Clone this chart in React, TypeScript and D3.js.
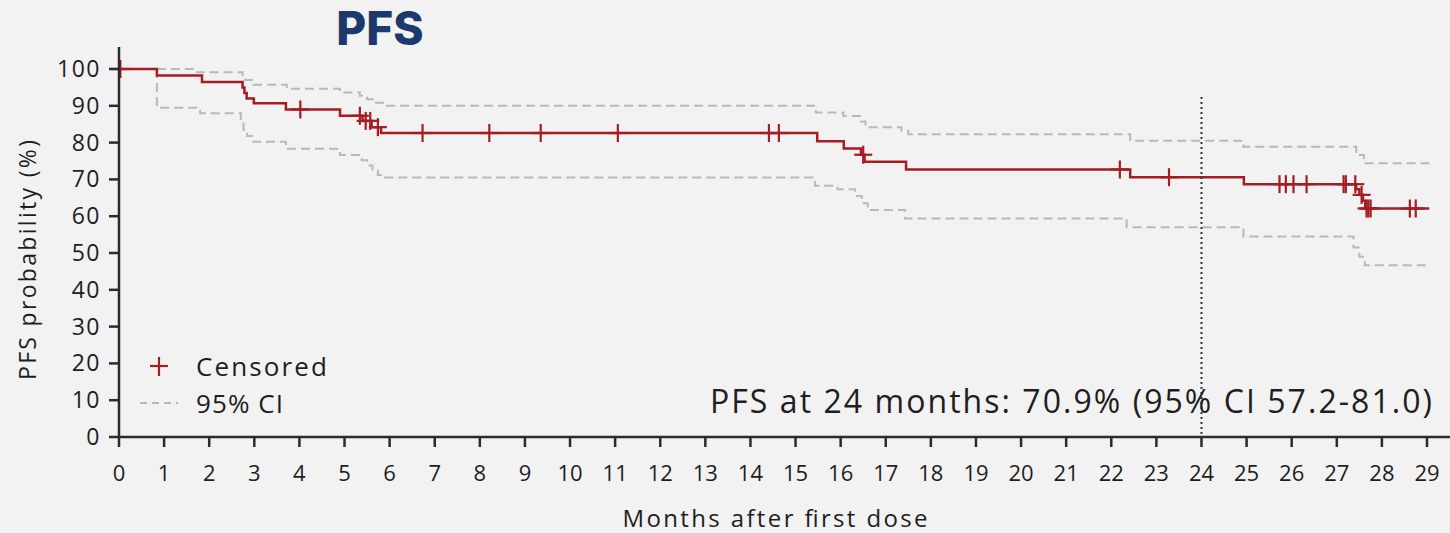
import * as d3 from "d3";
import React from "react";

// Kaplan-Meier step data (months, % PFS)
const kmTimes = [0, 0.84, 1.84, 2.74, 2.78, 2.83, 2.99, 3.7, 4.9, 5.4, 5.6, 5.81, 15.48, 16.07, 16.45, 16.53, 17.45, 22.42, 24.94, 27.43, 27.5, 27.58, 27.63, 29.05];
const kmSurv = [100, 98.2, 96.5, 95.0, 93.5, 92.0, 90.7, 89.0, 87.3, 85.9, 84.2, 82.6, 80.4, 78.4, 76.7, 74.8, 72.7, 70.6, 68.7, 67.3, 65.8, 64.2, 62.1, 62.1];

const censorTimes = [0.03, 4.02, 5.34, 5.47, 5.57, 5.74, 6.73, 8.21, 9.35, 11.06, 14.41, 14.63, 16.5, 22.19, 23.28, 25.73, 25.87, 26.04, 26.33, 27.15, 27.2, 27.41, 27.55, 27.66, 27.7, 27.75, 28.62, 28.75];

const upperTimes = [0.84, 1.72, 2.74, 2.8, 2.98, 3.72, 4.9, 5.34, 5.5, 5.65, 5.85, 15.45, 16.06, 16.45, 16.55, 17.35, 17.5, 22.42, 24.93, 27.43, 27.6, 29.05];
const upperVals = [100, 99.1, 98.0, 97.0, 95.7, 94.6, 93.6, 92.7, 91.8, 90.8, 90.0, 88.2, 87.2, 85.7, 84.2, 83.2, 82.3, 80.5, 78.9, 76.6, 74.4, 74.4];

const lowerTimes = [0.84, 0.84, 1.8, 2.7, 2.76, 2.84, 2.98, 3.7, 4.9, 5.38, 5.5, 5.62, 5.74, 5.86, 15.43, 15.93, 16.32, 16.47, 16.6, 17.43, 22.34, 24.93, 27.37, 27.5, 27.62, 29.05];
const lowerVals = [100, 89.5, 88.0, 85.5, 83.5, 81.8, 80.2, 78.3, 76.6, 75.2, 73.8, 72.4, 71.2, 70.5, 68.3, 67.3, 65.5, 63.5, 61.7, 59.4, 57.0, 54.5, 51.5, 49.0, 46.7, 46.7];

const xTicks = d3.range(0, 30);
const yTicks = d3.range(0, 101, 10);

const RED = "#a51c24";
const GREY = "#b9b9b9";
const INK = "#2b2b2b";
const TXT = "#1e1e1e";
const FONT = "'Open Sans', Lato, sans-serif";

export default function App() {
  const W = 1450, H = 533;
  const x = d3.scaleLinear().domain([0, 29]).range([119, 1427]);
  const y = d3.scaleLinear().domain([0, 100]).range([437, 69]);

  const km = kmTimes.map((t, i) => [t, kmSurv[i]] as [number, number]);
  const up = upperTimes.map((t, i) => [t, upperVals[i]] as [number, number]);
  const lo = lowerTimes.map((t, i) => [t, lowerVals[i]] as [number, number]);

  const line = d3.line<[number, number]>()
    .x(d => x(d[0]))
    .y(d => y(d[1]))
    .curve(d3.curveStepAfter);

  const survAt = (t: number) => {
    const i = d3.bisectRight(kmTimes, t) - 1;
    return kmSurv[Math.max(0, i)];
  };

  return (
    <div style={{ position: "fixed", left: 0, top: 0, width: W, height: H, background: "#f2f2f2" }}>
      <svg width={W} height={H} style={{ display: "block", fontFamily: FONT, fontWeight: 400 }}>
        <text x={380} y={45} textAnchor="middle" fontSize={46} fontWeight={800}
          fill="#1b3a6b" style={{ fontFamily: "Inter, 'Open Sans', sans-serif" }}>PFS</text>

        {/* CI bands */}
        <path d={line(up) || ""} fill="none" stroke={GREY} strokeWidth={2} strokeDasharray="9,5" />
        <path d={line(lo) || ""} fill="none" stroke={GREY} strokeWidth={2} strokeDasharray="9,5" />

        {/* KM curve */}
        <path d={line(km) || ""} fill="none" stroke={RED} strokeWidth={2.5} />
        {censorTimes.map((t, i) => (
          <g key={i} transform={`translate(${x(t)},${y(survAt(t))})`} stroke={RED} strokeWidth={2.2}>
            <line x1={0} x2={0} y1={-9} y2={9} />
            <line x1={-9} x2={9} y1={0} y2={0} />
          </g>
        ))}

        {/* 24-month reference */}
        <line x1={x(24)} x2={x(24)} y1={97} y2={437} stroke="#2a3450" strokeWidth={2} strokeDasharray="2,3" />

        {/* axes */}
        <line x1={119} x2={119} y1={47} y2={438} stroke={INK} strokeWidth={2.5} />
        <line x1={118} x2={1450} y1={437} y2={437} stroke={INK} strokeWidth={2.5} />
        {yTicks.map(v => (
          <g key={v}>
            <line x1={109} x2={119} y1={y(v)} y2={y(v)} stroke={INK} strokeWidth={2.5} />
            <text x={101} y={y(v) + 8} textAnchor="end" fontSize={23} letterSpacing={1.5} fill={TXT}>{v}</text>
          </g>
        ))}
        {xTicks.map(v => (
          <g key={v}>
            <line x1={x(v)} x2={x(v)} y1={437} y2={447} stroke={INK} strokeWidth={2.5} />
            <text x={x(v)} y={481} textAnchor="middle" fontSize={22} fill={TXT}>{v}</text>
          </g>
        ))}

        <text transform="translate(36,260) rotate(-90)" textAnchor="middle" fontSize={23}
          textLength={240} fill={TXT}>PFS probability (%)</text>
        <text x={775} y={527} textAnchor="middle" fontSize={24} textLength={305} fill={TXT}>Months after first dose</text>

        {/* legend */}
        <g stroke={RED} strokeWidth={2.2}>
          <line x1={159} x2={159} y1={357} y2={376} />
          <line x1={150} x2={168} y1={366} y2={366} />
        </g>
        <text x={196} y={376} fontSize={26} textLength={131} fill={TXT}>Censored</text>
        <line x1={140} x2={178} y1={403} y2={403} stroke={GREY} strokeWidth={2} strokeDasharray="7,5" />
        <text x={196} y={413} fontSize={26} textLength={87} fill={TXT}>95% CI</text>

        <text x={1432} y={413} textAnchor="end" fontSize={32} textLength={722} fill={TXT}>PFS at 24 months: 70.9% (95% CI 57.2-81.0)</text>
      </svg>
    </div>
  );
}
